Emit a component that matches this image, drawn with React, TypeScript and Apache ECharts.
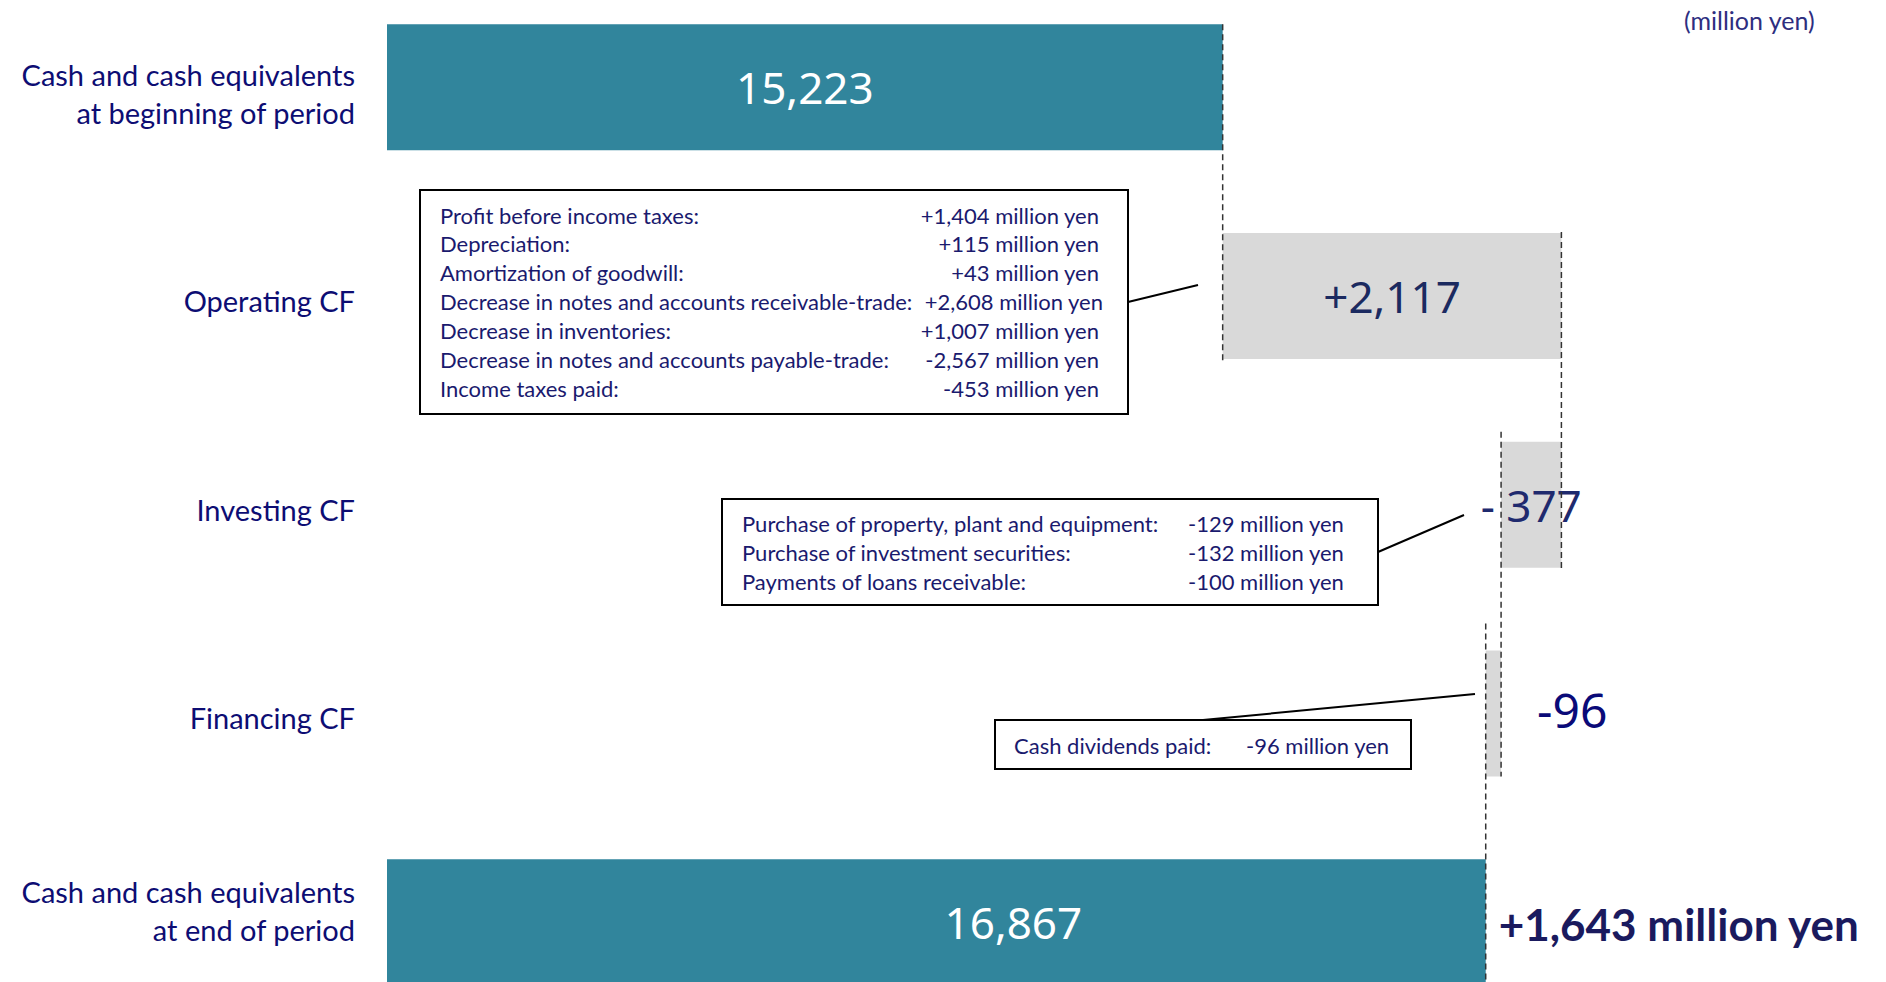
import React, { useEffect, useRef } from 'react';
import * as echarts from 'echarts';

const categories = [
  'Cash and cash equivalents\nat beginning of period',
  'Operating CF',
  'Investing CF',
  'Financing CF',
  'Cash and cash equivalents\nat end of period',
];
const beginCash = 15223;
const flowValues = [2117, -377, -96]; // operating, investing, financing
const flowLabels = ['+2,117', '- 377', '-96'];
const endCash = 16867;
const netChangeLabel = '+1,643 million yen';
const unitLabel = '(million yen)';

const operatingItems: [string, string][] = [
  ['Profit before income taxes:', '+1,404 million yen'],
  ['Depreciation:', '+115 million yen'],
  ['Amortization of goodwill:', '+43 million yen'],
  ['Decrease in notes and accounts receivable-trade:', '+2,608 million yen'],
  ['Decrease in inventories:', '+1,007 million yen'],
  ['Decrease in notes and accounts payable-trade:', '-2,567 million yen'],
  ['Income taxes paid:', '-453 million yen'],
];
const investingItems: [string, string][] = [
  ['Purchase of property, plant and equipment:', '-129 million yen'],
  ['Purchase of investment securities:', '-132 million yen'],
  ['Payments of loans receivable:', '-100 million yen'],
];
const financingItems: [string, string][] = [['Cash dividends paid:', '-96 million yen']];

const TEAL = '#31859C';
const GRAY = '#D9D9D9';
const NAVY = '#0D0D73';
const BOX_TEXT = '#1A1A6E';
const NUM_FONT = '"Noto Sans", "DejaVu Sans", sans-serif';
const TXT_FONT = 'Lato, "Open Sans", sans-serif';

const fmt = (v: number) => v.toLocaleString('en-US');

export default function App() {
  const ref = useRef<HTMLDivElement>(null);

  useEffect(() => {
    if (!ref.current) return;
    const chart = echarts.init(ref.current, null, { renderer: 'svg' });

    // waterfall bases
    const baseData: (number | string)[] = ['-'];
    const barData: number[] = [beginCash];
    let running = beginCash;
    const levels: number[] = [beginCash];
    flowValues.forEach((v) => {
      const lo = v >= 0 ? running : running + v;
      baseData.push(lo);
      barData.push(Math.abs(v));
      running += v;
      levels.push(running);
    });
    baseData.push('-');
    barData.push(endCash);

    const numLabel = (text: string, color: string, size = 44, extra: any = {}) => ({
      show: true,
      position: 'inside',
      formatter: text,
      color,
      fontSize: size,
      fontFamily: NUM_FONT,
      ...extra,
    });

    const visibleData = [
      { value: barData[0], itemStyle: { color: TEAL }, label: numLabel(fmt(beginCash), '#ffffff') },
      { value: barData[1], itemStyle: { color: GRAY }, label: numLabel(flowLabels[0], '#1B2A60') },
      { value: barData[2], itemStyle: { color: GRAY }, label: numLabel(flowLabels[1], '#1F2A6E') },
      {
        value: barData[3],
        itemStyle: { color: GRAY },
        label: numLabel(flowLabels[2], '#0A0A78', 48, { position: 'right', distance: 36, offset: [0, -4] }),
      },
      {
        value: barData[4],
        itemStyle: { color: TEAL },
        label: numLabel(fmt(endCash), '#ffffff', 44, { offset: [77, 0] }),
      },
    ];

    chart.setOption({
      animation: false,
      grid: {
        left: 387,
        top: -17,
        width: 1440,
        height: 1043.5,
        containLabel: false,
        outerBoundsMode: 'none',
      },
      xAxis: { type: 'value', min: 10000, max: 19000, show: false },
      yAxis: {
        type: 'category',
        inverse: true,
        data: categories,
        axisLine: { show: false },
        axisTick: { show: false },
        splitLine: { show: false },
        axisLabel: { show: false },
      },
      series: [
        {
          type: 'bar',
          stack: 'wf',
          data: baseData,
          barWidth: 126,
          itemStyle: { color: 'transparent' },
          silent: true,
        },
        {
          type: 'bar',
          stack: 'wf',
          data: visibleData,
          barWidth: 126,
        },
      ],
    });

    const px = (v: number, i: number) => chart.convertToPixel({ gridIndex: 0 }, [v, i]) as number[];
    const cy = (i: number) => px(beginCash, i)[1];
    const xOf = (v: number) => px(v, 0)[0];

    const dash = (x: number, y1: number, y2: number) => ({
      type: 'line',
      z: 20,
      shape: { x1: x, y1, x2: x, y2 },
      style: { stroke: '#333333', lineWidth: 1.5, lineDash: [6, 4] },
    });
    const seg = (x1: number, y1: number, x2: number, y2: number) => ({
      type: 'line',
      z: 20,
      shape: { x1, y1, x2, y2 },
      style: { stroke: '#000000', lineWidth: 2 },
    });
    const txt = (
      text: string,
      x: number,
      y: number,
      font: string,
      fill: string,
      align = 'left',
      lineHeight?: number
    ) => ({
      type: 'text',
      z: 30,
      style: {
        text,
        x,
        y,
        font,
        fill,
        align,
        verticalAlign: 'middle',
        textAlign: align,
        textVerticalAlign: 'middle',
        ...(lineHeight ? { lineHeight } : {}),
      },
    });
    const box = (x: number, y: number, w: number, h: number) => ({
      type: 'rect',
      z: 25,
      shape: { x, y, width: w, height: h },
      style: { fill: '#ffffff', stroke: '#000000', lineWidth: 2 },
    });

    // category labels, placed relative to each bar's band centre
    const catOffsets = [6, 4, 5, 4, -12];
    const catFont = `29px ${TXT_FONT}`;
    const catX = px(10000, 0)[0] - 32;

    const boxFont = `22px ${TXT_FONT}`;
    const graphics: any[] = [
      dash(xOf(levels[0]), cy(0) - 63, cy(1) + 68),
      dash(xOf(levels[1]), cy(1) - 64, cy(2) + 67),
      dash(xOf(levels[2]), cy(2) - 73, cy(3) + 63),
      dash(xOf(levels[3]), cy(3) - 90, cy(4) + 63),
      txt(unitLabel, 1684, 20, `25px ${TXT_FONT}`, '#2E2E80'),
      txt(netChangeLabel, xOf(endCash) + 13, cy(4) + 2, `bold 44px ${TXT_FONT}`, '#1A1A5E'),
      // operating box
      box(420, 190, 708, 224),
      seg(1128, 302, 1198, 285),
      // investing box
      box(722, 499, 656, 106),
      seg(1378, 552, 1464, 515),
      // financing box
      box(995, 720, 416, 49),
      seg(1203, 720, 1475, 694),
    ];
    categories.forEach((c, i) => {
      graphics.push(txt(c, catX, cy(i) + catOffsets[i], catFont, NAVY, 'right', 38));
    });
    operatingItems.forEach(([k, v], i) => {
      const y = 215 + i * 28.9;
      graphics.push(txt(k, 440, y, boxFont, BOX_TEXT));
      graphics.push(txt(v, i === 3 ? 1103 : 1099, y, boxFont, BOX_TEXT, 'right'));
    });
    investingItems.forEach(([k, v], i) => {
      const y = 523 + i * 29;
      graphics.push(txt(k, 742, y, boxFont, BOX_TEXT));
      graphics.push(txt(v, 1188, y, boxFont, BOX_TEXT));
    });
    financingItems.forEach(([k, v]) => {
      graphics.push(txt(k, 1014, 745, boxFont, BOX_TEXT));
      graphics.push(txt(v, 1246, 745, boxFont, BOX_TEXT));
    });

    chart.setOption({ graphic: graphics });

    return () => chart.dispose();
  }, []);

  return (
    <div
      ref={ref}
      style={{ position: 'absolute', left: 0, top: 0, width: 1886, height: 982, background: '#ffffff' }}
    />
  );
}
